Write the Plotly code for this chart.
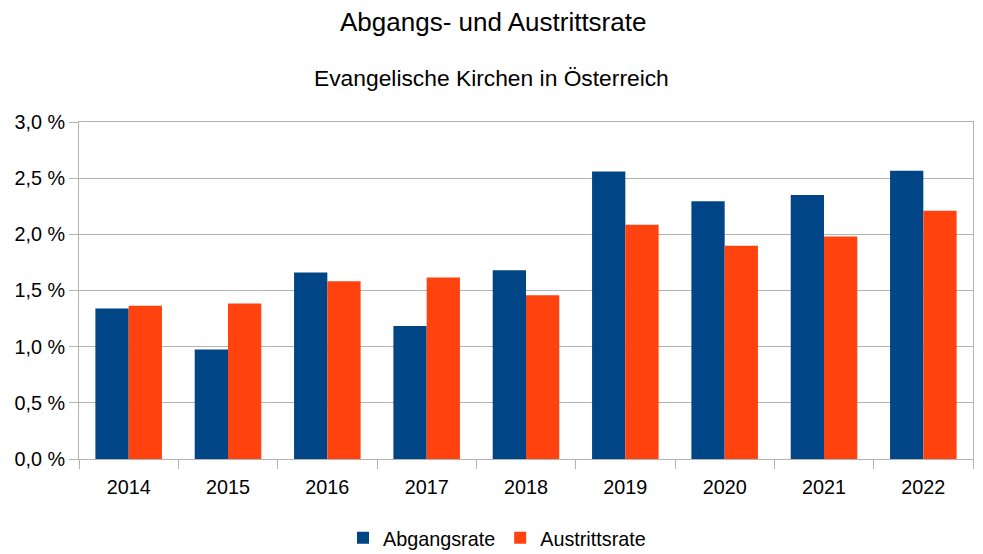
import plotly.graph_objects as go

years = ["2014", "2015", "2016", "2017", "2018", "2019", "2020", "2021", "2022"]
abgangsrate = [1.34, 0.975, 1.66, 1.185, 1.68, 2.56, 2.295, 2.35, 2.565]
austrittsrate = [1.365, 1.385, 1.583, 1.616, 1.458, 2.085, 1.898, 1.98, 2.21]
ytick_vals = [0, 0.5, 1.0, 1.5, 2.0, 2.5, 3.0]
ytick_text = ["0,0 %", "0,5 %", "1,0 %", "1,5 %", "2,0 %", "2,5 %", "3,0 %"]

font = "Liberation Sans, Arial, sans-serif"
W, H = 983, 554
ML, MR, MT, MB = 79, 10, 122, 95
plot_h = H - MT - MB
plot_w = W - ML - MR

def py(pix):
    return (H - MB - pix) / plot_h

def px(pix):
    return (pix - ML) / plot_w

fig = go.Figure()
fig.add_trace(go.Bar(x=years, y=abgangsrate, name="Abgangsrate",
                     marker=dict(color="#004586", line=dict(width=0))))
fig.add_trace(go.Bar(x=years, y=austrittsrate, name="Austrittsrate",
                     marker=dict(color="#ff420e", line=dict(width=0))))

fig.update_layout(
    width=W, height=H,
    margin=dict(l=ML, r=MR, t=MT, b=MB, autoexpand=False),
    paper_bgcolor="white", plot_bgcolor="white",
    font=dict(family=font, size=20, color="black"),
    barmode="group", bargap=0.33, bargroupgap=0,
    showlegend=True,
    legend=dict(orientation="h", x=px(497), xanchor="center", xref="paper",
                y=py(538), yanchor="middle", yref="paper",
                font=dict(size=19.8), itemwidth=30, traceorder="normal",
                bgcolor="rgba(0,0,0,0)"),
    annotations=[
        dict(text="Abgangs- und Austrittsrate", x=px(492.5), y=py(22), xref="paper", yref="paper",
             showarrow=False, font=dict(size=26), xanchor="center", yanchor="middle"),
        dict(text="Evangelische Kirchen in Österreich", x=px(491.5), y=py(78), xref="paper", yref="paper",
             showarrow=False, font=dict(size=22.8), xanchor="center", yanchor="middle"),
    ],
)
fig.update_xaxes(showline=True, linecolor="#b3b3b3", linewidth=1, mirror=True,
                 ticks="outside", tickson="boundaries", ticklen=9, tickcolor="#b3b3b3",
                 showgrid=False, tickfont=dict(size=19.8), ticklabelstandoff=10)
fig.update_yaxes(range=[0, 3.0], tickvals=ytick_vals, ticktext=ytick_text,
                 showline=True, linecolor="#b3b3b3", linewidth=1, mirror=True,
                 ticks="outside", ticklen=9, tickcolor="#b3b3b3",
                 showgrid=True, gridcolor="#b3b3b3", gridwidth=1,
                 zeroline=False, tickfont=dict(size=19.8))

fig.write_html("out.html")
